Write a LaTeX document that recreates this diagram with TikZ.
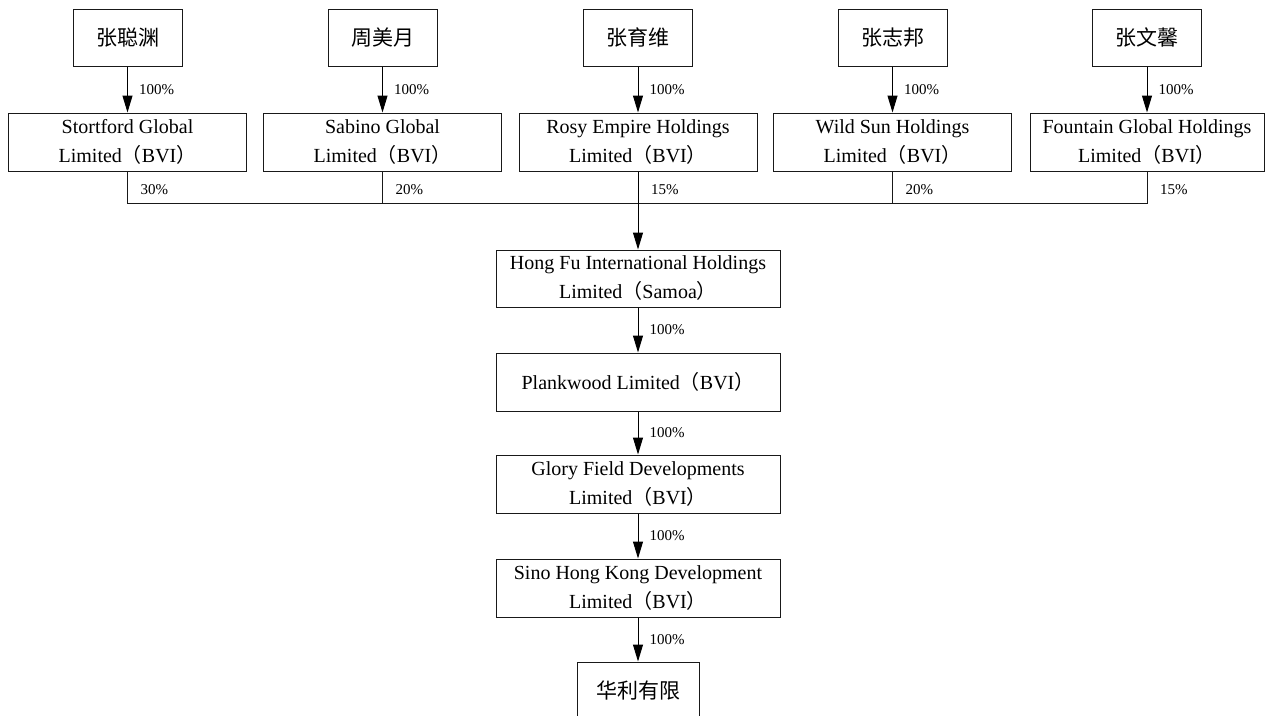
\documentclass[tikz,border=0pt]{standalone}
\usepackage{fontspec}
\setmainfont{Liberation Serif}
\newfontfamily\cjk{Noto Sans CJK SC}
\usetikzlibrary{arrows.meta}
\newcommand\LP{{\cjk （}}
\newcommand\RP{{\cjk ）}}
\begin{document}
\begin{tikzpicture}[x=1pt,y=-1pt,
  box/.style={draw=black!90, line width=1pt, inner sep=0pt, align=center, font=\fontsize{20}{29}\selectfont},
  person/.style={box, minimum width=109pt, minimum height=57pt, font=\fontsize{21}{25}\selectfont\cjk},
  comp/.style={box, minimum width=238pt, minimum height=58pt},
  mainbox/.style={box, minimum width=284pt, minimum height=57pt},
  arr/.style={-{Triangle[length=17pt,width=10pt]}, line width=1pt, draw=black, fill=black},
  link/.style={line width=1pt, draw=black!90},
  pct/.style={font=\fontsize{15}{15}\selectfont, anchor=west, inner sep=0pt}
]
\useasboundingbox (0,0) rectangle (1268,715);
\fill[white] (0,0) rectangle (1268,715);
\clip (0,0) rectangle (1268,715);

% persons
\node[person] (p1) at (127.5,37.5) {张聪渊};
\node[person] (p2) at (382.5,37.5) {周美月};
\node[person] (p3) at (638,37.5) {张育维};
\node[person] (p4) at (892.5,37.5) {张志邦};
\node[person] (p5) at (1147,37.5) {张文馨};

% companies
\node[comp] (c1) at (127.5,142) {Stortford Global\\Limited\LP BVI\RP};
\node[comp] (c2) at (382.5,142) {Sabino Global\\Limited\LP BVI\RP};
\node[comp] (c3) at (638,142) {Rosy Empire Holdings\\Limited\LP BVI\RP};
\node[comp] (c4) at (892.5,142) {Wild Sun Holdings\\Limited\LP BVI\RP};
\node[comp, minimum width=234pt] (c5) at (1147,142) {Fountain Global Holdings\\Limited\LP BVI\RP};

% main chain
\node[mainbox] (hf) at (638,278.5) {Hong Fu International Holdings\\Limited\LP Samoa\RP};
\node[mainbox, minimum height=58pt] (pw) at (638,382) {Plankwood Limited\LP BVI\RP};
\node[mainbox, minimum height=58pt] (gf) at (638,484) {Glory Field Developments\\Limited\LP BVI\RP};
\node[mainbox, minimum height=58pt] (sh) at (638,588) {Sino Hong Kong Development\\Limited\LP BVI\RP};
\node[person, minimum width=122pt, minimum height=56pt] (hl) at (638,690) {华利有限};

% person -> company arrows
\foreach \i in {1,...,5}{
  \draw[arr] (p\i) -- (c\i) node[pct, midway, xshift=11pt] (l\i) {100\%};
}

% bus
\coordinate (bus) at (0,203);
\draw[link] (c1.south) -- (c1.south |- bus) -- (c5.south |- bus) -- (c5.south);
\draw[link] (c2.south) -- (c2.south |- bus);
\draw[link] (c4.south) -- (c4.south |- bus);
\draw[arr] (c3.south) -- (hf.north);

\node[pct] (s1) at ([xshift=13pt]c1.south |- 0,190) {30\%};
\node[pct] (s2) at ([xshift=13pt]c2.south |- 0,190) {20\%};
\node[pct] (s3) at ([xshift=13pt]c3.south |- 0,190) {15\%};
\node[pct] (s4) at ([xshift=13pt]c4.south |- 0,190) {20\%};
\node[pct] (s5) at ([xshift=13pt]c5.south |- 0,190) {15\%};

% chain arrows
\draw[arr] (hf) -- (pw) node[pct, midway, xshift=11pt] (m1) {100\%};
\draw[arr] (pw) -- (gf) node[pct, midway, xshift=11pt] (m2) {100\%};
\draw[arr] (gf) -- (sh) node[pct, midway, xshift=11pt] (m3) {100\%};
\draw[arr] (sh) -- (hl) node[pct, midway, xshift=11pt] (m4) {100\%};
\end{tikzpicture}
\end{document}
